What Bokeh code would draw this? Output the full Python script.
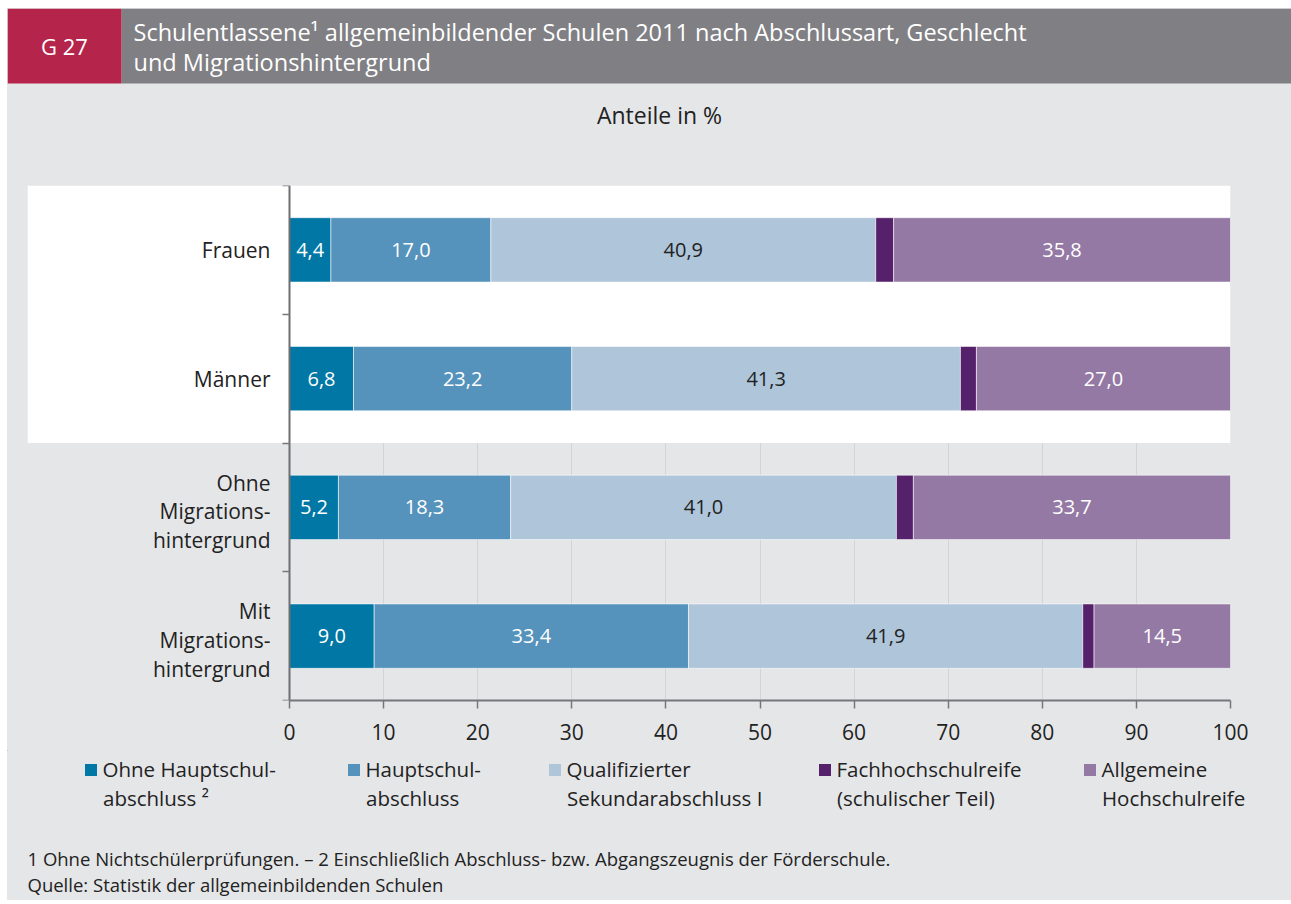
from bokeh.plotting import figure
from bokeh.models import (ColumnDataSource, Range1d, FixedTicker, Legend, LegendItem,
                          Label, BoxAnnotation)
from bokeh.layouts import column
from bokeh.core.properties import value
from bokeh.embed import file_html
from bokeh.resources import INLINE

# ---------------- data ----------------
categories = ["Frauen", "Männer",
              "Ohne\nMigrations-\nhintergrund",
              "Mit\nMigrations-\nhintergrund"]
ohne_hauptschulabschluss = [4.4, 6.8, 5.2, 9.0]
hauptschulabschluss = [17.0, 23.2, 18.3, 33.4]
qualifizierter_sek1 = [40.9, 41.3, 41.0, 41.9]
fachhochschulreife = [1.9, 1.7, 1.8, 1.2]
allg_hochschulreife = [35.8, 27.0, 33.7, 14.5]

series_keys = ["ohne_hs", "hs", "qual", "fhr", "ahr"]
series_labels = ["Ohne Hauptschul-", "Hauptschul-", "Qualifizierter",
                 "Fachhochschulreife", "Allgemeine"]
series_labels_2 = ["abschluss \u00b2", "abschluss", "Sekundarabschluss I",
                   "(schulischer Teil)", "Hochschulreife"]
x_ticks = [0, 10, 20, 30, 40, 50, 60, 70, 80, 90, 100]

header_id = "G 27"
title_lines = ["Schulentlassene\u00b9 allgemeinbildender Schulen 2011 nach Abschlussart, Geschlecht",
               "und Migrationshintergrund"]
subtitle = "Anteile in %"
footnotes = ["1 Ohne Nichtsch\u00fclerpr\u00fcfungen. \u2013 2 Einschlie\u00dflich Abschluss- bzw. Abgangszeugnis der F\u00f6rderschule.",
             "Quelle: Statistik der allgemeinbildenden Schulen"]

# ---------------- style / layout ----------------
FONT = "Open Sans"
BG = "#e5e6e8"
HEADER_GRAY = "#808084"
CRIMSON = "#b5254b"
TEXT = "#222222"
colors = ["#0077a4", "#5593bc", "#aec5da", "#55216a", "#9579a5"]
value_text_colors = ["white", "white", TEXT, None, "white"]   # None -> no label

PAGE_W = 1291
LEFT = 7                      # page x where the graphic starts
W = PAGE_W - LEFT
HEADER_TOP, HEADER_BOTTOM = 8, 160
MAIN_TOP, MAIN_BOTTOM = 160, 750
FOOT_TOP, FOOT_BOTTOM = 750, 900
FRAME_X0, FRAME_X1 = 27, 1230          # page x of chart frame
FRAME_Y0, FRAME_Y1 = 185, 700          # page y of chart frame
AXIS_X = 289                           # page x of value 0

legend_x = [84, 347, 548, 818, 1083]   # page x of legend swatches
LEG_GLYPH = 15                         # legend glyph box (swatch = 80 % of it)
LEG_STANDOFF = 5
legend_line1_bottom = 783              # page y of the (one-line) legend bottom
legend_line2_y = 797                   # page y of the second label line


def no_align(fig):
    try:
        fig.frame_align = False
    except Exception:
        pass


def flat_bg(fig):
    fig.outline_line_color = None
    fig.border_fill_color = BG
    fig.background_fill_color = BG
    fig.background_fill_alpha = 0


# ---------------- header (data units == page pixels) ----------------
h = figure(width=W, height=HEADER_BOTTOM - HEADER_TOP,
           x_range=Range1d(LEFT, PAGE_W), y_range=Range1d(HEADER_BOTTOM, HEADER_TOP),
           toolbar_location=None, output_backend="svg", min_border=0,
           x_axis_type=None, y_axis_type=None)
no_align(h)
flat_bg(h)
h.grid.visible = False
h.add_layout(BoxAnnotation(left=121, right=PAGE_W, top=8, bottom=83, fill_color=HEADER_GRAY,
                           fill_alpha=1, line_color=None, level="underlay"))
h.add_layout(BoxAnnotation(left=LEFT, right=121, top=8, bottom=83, fill_color=CRIMSON,
                           fill_alpha=1, line_color=None, level="underlay"))
h.add_layout(Label(x=64, y=45, text=header_id, text_align="center", text_baseline="alphabetic",
                   text_color="white", text_font=FONT, text_font_size="22px"))
for i, line in enumerate(title_lines):
    h.add_layout(Label(x=133, y=31 + 30 * i, text=line, text_align="left",
                       text_baseline="alphabetic", text_color="white",
                       text_font=FONT, text_font_size="23.5px"))
h.add_layout(Label(x=659, y=114, text=subtitle, text_align="center", text_baseline="alphabetic",
                   text_color=TEXT, text_font=FONT, text_font_size="23px"))

# ---------------- main chart ----------------
n = len(categories)
row_y = [n - i - 0.5 for i in range(n)]
series = [ohne_hauptschulabschluss, hauptschulabschluss, qualifizierter_sek1,
          fachhochschulreife, allg_hochschulreife]

src = ColumnDataSource(dict(y=row_y, **{k: v for k, v in zip(series_keys, series)}))

frame_w = FRAME_X1 - FRAME_X0
axis_off = AXIS_X - FRAME_X0
x_start = -100.0 * axis_off / (frame_w - axis_off)
p = figure(width=W, height=MAIN_BOTTOM - MAIN_TOP,
           x_range=Range1d(x_start, 100), y_range=Range1d(0, n),
           toolbar_location=None, output_backend="svg",
           min_border_left=FRAME_X0 - LEFT, min_border_right=PAGE_W - FRAME_X1,
           min_border_top=FRAME_Y0 - MAIN_TOP, min_border_bottom=MAIN_BOTTOM - FRAME_Y1)
no_align(p)
flat_bg(p)

# white band behind the "Geschlecht" group (first two rows)
p.add_layout(BoxAnnotation(bottom=n - 2, top=n, right=100, fill_color="white", fill_alpha=1,
                           line_color=None, level="underlay"))

renderers = p.hbar_stack(series_keys, y="y", height=0.5, source=src,
                         fill_color=colors, line_color="white", line_alpha=0.55, line_width=1)

# value labels
lx, ly, lt, lc = [], [], [], []
for i in range(n):
    left = 0.0
    for vals, tc in zip(series, value_text_colors):
        v = vals[i]
        if tc is not None:
            lx.append(left + v / 2)
            ly.append(row_y[i])
            lt.append(f"{v:.1f}".replace(".", ","))
            lc.append(tc)
        left += v
p.text(x="x", y="y", text="t", text_color="c",
       source=ColumnDataSource(dict(x=lx, y=ly, t=lt, c=lc)),
       text_align="center", text_baseline="middle",
       text_font=value(FONT), text_font_size="20px")

# category labels
cat_offsets = [4 if "\n" in c else 0 for c in categories]
p.text(x="x", y="y", text="t", y_offset="o",
       source=ColumnDataSource(dict(x=[0] * n, y=row_y, t=categories, o=cat_offsets)),
       x_offset=-19, text_align="right", text_baseline="middle", text_color=TEXT,
       text_font=value(FONT), text_font_size="21px", text_line_height=1.03)

# grid
p.xgrid.ticker = FixedTicker(ticks=x_ticks[1:])
p.xgrid.grid_line_color = "#d3d4d6"
p.xgrid.grid_line_width = 1
p.ygrid.ticker = FixedTicker(ticks=[n])
p.ygrid.bounds = (0, 100)
p.ygrid.grid_line_color = "#d3d4d6"

# x axis
xa = p.xaxis[0]
xa.ticker = FixedTicker(ticks=x_ticks)
xa.bounds = (0, 100)
xa.major_tick_in = 0
xa.major_tick_out = 8
xa.minor_tick_line_color = None
xa.axis_line_color = "#77777a"
xa.axis_line_width = 2
xa.major_tick_line_color = "#77777a"
xa.major_tick_line_width = 1.5
xa.major_label_standoff = 15
xa.major_label_text_font = FONT
xa.major_label_text_font_size = "21px"
xa.major_label_text_color = TEXT

# y axis (line + ticks at row boundaries, drawn at x = 0)
ya = p.yaxis[0]
ya.ticker = FixedTicker(ticks=list(range(n + 1)))
ya.fixed_location = 0
ya.major_label_overrides = {i: "" for i in range(n + 1)}
ya.major_label_text_font_size = "1px"
ya.major_label_standoff = 0
ya.major_tick_in = 0
ya.major_tick_out = 7
ya.minor_tick_line_color = None
ya.axis_line_color = "#6f6f72"
ya.axis_line_width = 2
ya.major_tick_line_color = "#77777a"
ya.major_tick_line_width = 1.5

# ---------------- footer: legend + footnotes (data units == page pixels) ----------------
f = figure(width=W, height=FOOT_BOTTOM - FOOT_TOP,
           x_range=Range1d(LEFT, PAGE_W), y_range=Range1d(FOOT_BOTTOM, FOOT_TOP),
           toolbar_location=None, output_backend="svg", min_border=0,
           x_axis_type=None, y_axis_type=None)
no_align(f)
flat_bg(f)
f.grid.visible = False

inset = LEG_GLYPH * 0.1
text_x = []
for key, col, lab, xpos in zip(series_keys, colors, series_labels, legend_x):
    # zero-width bar outside the view: only supplies the legend swatch
    r = f.hbar(y=[0], left=[0], right=[0], height=1, fill_color=col, line_color=None)
    box_left = xpos - inset
    leg = Legend(items=[LegendItem(label=lab, renderers=[r])],
                 location=(box_left - LEFT, FOOT_BOTTOM - legend_line1_bottom),
                 orientation="vertical", glyph_width=LEG_GLYPH, glyph_height=LEG_GLYPH,
                 label_standoff=LEG_STANDOFF, padding=0, margin=0, spacing=0,
                 border_line_color=None, background_fill_alpha=0,
                 label_text_font=FONT, label_text_font_size="20.5px",
                 label_text_color=TEXT, label_text_line_height=0.97)
    f.add_layout(leg)
    text_x.append(box_left + LEG_GLYPH + LEG_STANDOFF)

# second lines of the legend labels
f.text(x=text_x, y=[legend_line2_y] * len(series_labels_2), text=series_labels_2,
       text_align="left", text_baseline="middle", text_color=TEXT,
       text_font=value(FONT), text_font_size="20.5px")

f.text(x=[27] * len(footnotes), y=[858 + 26 * i for i in range(len(footnotes))], text=footnotes,
       text_align="left", text_baseline="middle", text_color=TEXT,
       text_font=value(FONT), text_font_size="18.5px")

layout = column(h, p, f, spacing=0, margin=(HEADER_TOP, 0, 0, LEFT),
                styles={"background-color": BG})
open("out.html", "w").write(file_html(layout, INLINE))
